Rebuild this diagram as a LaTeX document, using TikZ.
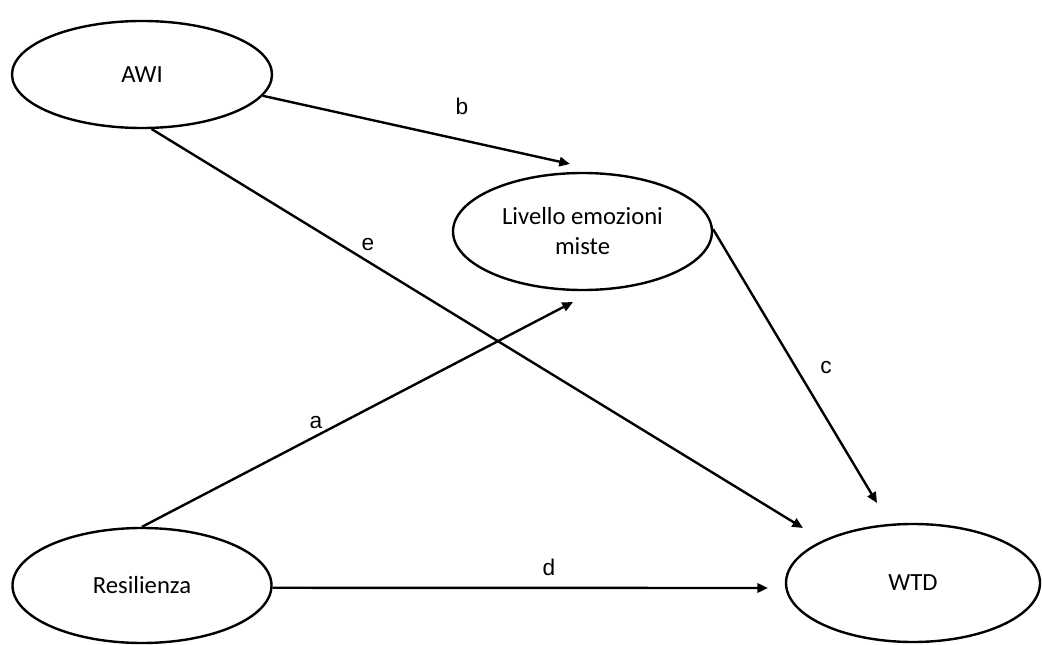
\documentclass[tikz,border=0pt]{standalone}
\usepackage{fontspec}
\setmainfont{Carlito}
\newfontfamily\labelfont{Liberation Sans}
\usetikzlibrary{shapes.geometric,arrows.meta}
\begin{document}
\begin{tikzpicture}[x=0.75pt,y=-0.75pt,
  var/.style={ellipse,draw,line width=1.8pt,inner sep=0pt,align=center,
    font=\fontsize{18.5}{22.5}\selectfont},
  path/.style={line width=1.8pt,-{Triangle[length=8pt,width=7pt]}},
  lbl/.style={font=\labelfont\fontsize{17}{20}\selectfont,inner sep=0pt}]
\useasboundingbox (0,0) rectangle (1042,645);

% latent variables
\node[var,minimum width=195pt,minimum height=80.25pt] (awi) at (142,74.5) {AWI};
\node[var,minimum width=194.25pt,minimum height=87.75pt] (liv) at (582.5,231.5) {Livello emozioni\\miste};
\node[var,minimum width=194.25pt,minimum height=86.25pt] (res) at (142,585.5) {Resilienza};
\node[var,minimum width=190.5pt,minimum height=88.5pt] (wtd) at (913,583) {WTD};

% arrow tips
\coordinate (tipb) at (570,164);
\coordinate (tipe) at (803,528);
\coordinate (tipc) at (877,503);
\coordinate (tipa) at (573,302);
\coordinate (tipd) at (768,588);

% paths
\draw[path] (awi.-10) -- (tipb);
\draw[path] (awi.-80) -- (tipe);
\draw[path] (liv.1) -- (tipc);
\draw[path] (res.north) -- (tipa);
\draw[path] (res.-1) -- (tipd);

% path labels
\node[lbl] (lb) at (462,106) {b};
\node[lbl] (le) at (368,245) {e};
\node[lbl] (lc) at (826,368) {c};
\node[lbl] (la) at (316,423) {a};
\node[lbl] (ld) at (549,567) {d};
\end{tikzpicture}
\end{document}
